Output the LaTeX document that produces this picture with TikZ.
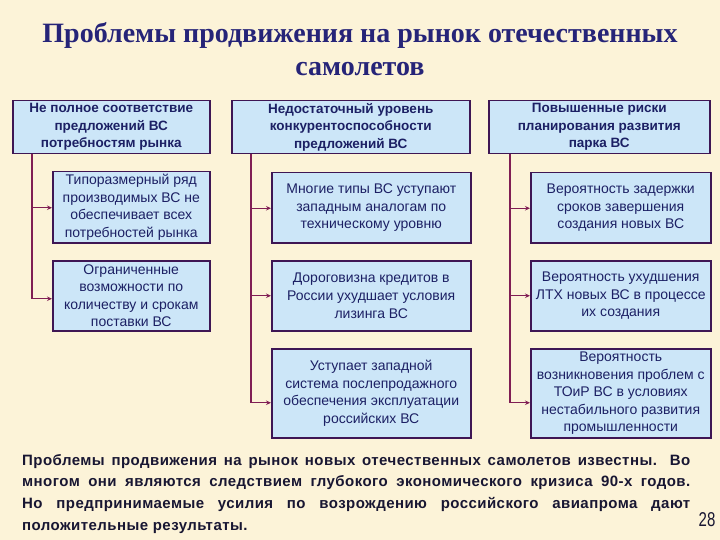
\documentclass[tikz,border=0pt]{standalone}
\usepackage{fontspec}
\setmainfont{Liberation Sans}
\newfontfamily\titlefont{Liberation Serif}
\newfontfamily\notefont[LetterSpace=3]{Liberation Sans}
\usetikzlibrary{arrows.meta}
\definecolor{bgc}{RGB}{252,243,216}
\definecolor{boxc}{RGB}{204,230,248}
\definecolor{bordc}{RGB}{62,22,84}
\definecolor{linec}{RGB}{128,30,84}
\definecolor{titlec}{RGB}{38,36,120}
\definecolor{txtc}{RGB}{28,32,100}
\definecolor{notec}{RGB}{24,22,50}
\begin{document}
\begin{tikzpicture}[x=1pt,y=-1pt,
  base/.style={draw=bordc, line width=1.5pt, fill=boxc, anchor=north west, inner sep=0pt, align=center, text=txtc},
  headbox/.style={base, font=\bfseries\fontsize{13.5}{17.5}\selectfont},
  subbox/.style={base, font=\fontsize{14}{17.6}\selectfont},
  conn/.style={draw=linec, line width=1.3pt, -{Stealth[length=5pt,width=4.5pt]}}]
\fill[bgc] (0,0) rectangle (720,540);
\useasboundingbox (0,0) rectangle (720,540);

\node[font=\titlefont\bfseries\fontsize{28}{33}\selectfont, text=titlec, align=center] (title) at (360,49)
  {Проблемы продвижения на рынок отечественных\\самолетов};

% headers
\node[headbox, minimum width=197pt, minimum height=53pt] (h1) at (12,100)
  {Не полное соответствие\\предложений ВС\\потребностям рынка};
\node[headbox, minimum width=238pt, minimum height=53pt] (h2) at (231,100)
  {Недостаточный уровень\\конкурентоспособности\\предложений ВС};
\node[headbox, minimum width=221pt, minimum height=53pt] (h3) at (488,100)
  {Повышенные риски\\планирования развития\\парка ВС};

% left column
\node[subbox, minimum width=157pt, minimum height=71pt] (a1) at (52,171)
  {Типоразмерный ряд\\производимых ВС не\\обеспечивает всех\\потребностей рынка};
\node[subbox, minimum width=157pt, minimum height=70pt] (a2) at (52,260)
  {Ограниченные\\возможности по\\количеству и срокам\\поставки ВС};

% middle column
\node[subbox, minimum width=199pt, minimum height=70pt] (b1) at (271,172)
  {Многие типы ВС уступают\\западным аналогам по\\техническому уровню};
\node[subbox, minimum width=199pt, minimum height=70pt] (b2) at (271,260)
  {Дороговизна кредитов в\\России ухудшает условия\\лизинга ВС};
\node[subbox, minimum width=199pt, minimum height=89pt] (b3) at (271,348)
  {Уступает западной\\система послепродажного\\обеспечения эксплуатации\\российских ВС};

% right column
\node[subbox, minimum width=180pt, minimum height=70pt] (c1) at (530,172)
  {Вероятность задержки\\сроков завершения\\создания новых ВС};
\node[subbox, minimum width=180pt, minimum height=70pt] (c2) at (530,260)
  {Вероятность ухудшения\\ЛТХ новых ВС в процессе\\их создания};
\node[subbox, minimum width=180pt, minimum height=89pt] (c3) at (530,348)
  {Вероятность\\возникновения проблем с\\ТОиР ВС в условиях\\нестабильного развития\\промышленности};

% connectors
\coordinate (va) at (32,0);
\coordinate (vb) at (251,0);
\coordinate (vc) at (510,0);
\draw[conn] (h1.south -| va) |- ([yshift=-0.5pt]a1.west);
\draw[conn] (h1.south -| va) |- ([yshift=-3pt]a2.west);
\draw[conn] (h2.south -| vb) |- ([yshift=-0.5pt]b1.west);
\draw[conn] (h2.south -| vb) |- (b2.west);
\draw[conn] (h2.south -| vb) |- ([yshift=-9.5pt]b3.west);
\draw[conn] (h3.south -| vc) |- ([yshift=-0.5pt]c1.west);
\draw[conn] (h3.south -| vc) |- (c2.west);
\draw[conn] (h3.south -| vc) |- ([yshift=-9.5pt]c3.west);

% note
\node[anchor=base west, inner sep=0pt, text width=668pt, align=justify, text=notec,
  font=\notefont\bfseries\fontsize{15}{21.8}\selectfont] (note) at (22,465)
  {Проблемы продвижения на рынок новых отечественных самолетов известны. Во\linebreak
   многом они являются следствием глубокого экономического кризиса 90-х годов.\linebreak
   Но предпринимаемые усилия по возрождению российского авиапрома дают\linebreak
   положительные результаты.};
\node[font=\fontsize{20}{22}\selectfont, text=notec, inner sep=0pt] (pg) at (707,520) {\scalebox{0.75}[1]{28}};
\end{tikzpicture}
\end{document}
